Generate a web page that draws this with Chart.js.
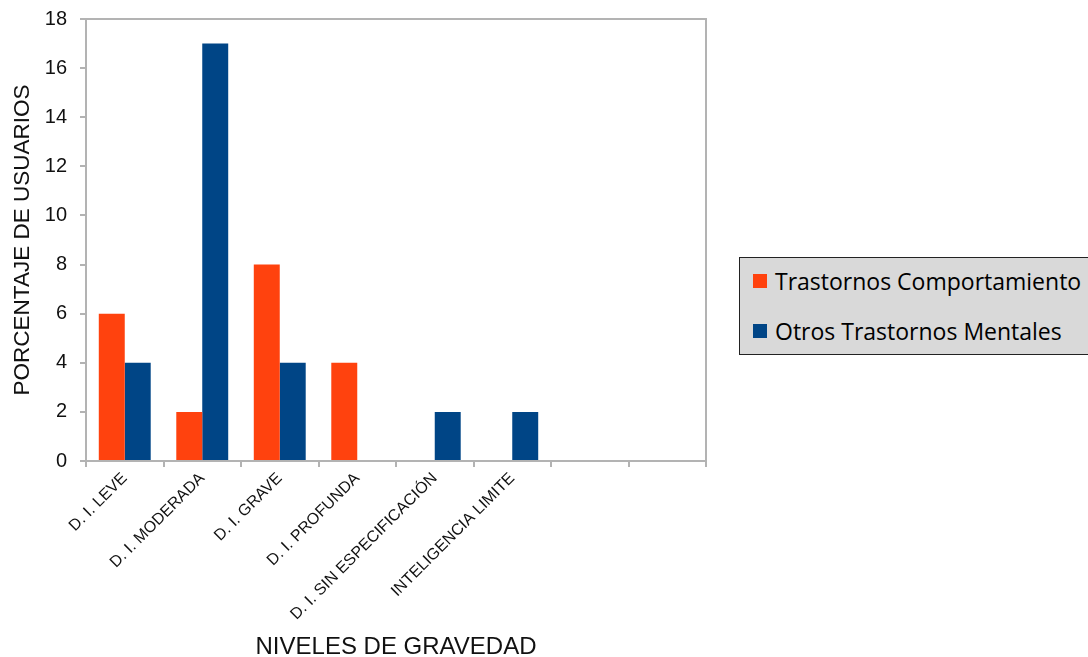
<!DOCTYPE html>
<html>
<head>
<meta charset="utf-8">
<script src="https://cdn.jsdelivr.net/npm/chart.js@4"></script>
<style>
    html, body { margin: 0; padding: 0; background: #fff; }
    #wrap { position: relative; width: 1088px; height: 657px; }
    #legend {
        position: absolute; left: 739px; top: 257px; width: 360px; height: 98px;
        background: #d9d9d9; border: 1px solid #222; box-sizing: border-box;
        font-family: "Open Sans", sans-serif; font-size: 23px; color: #000;
    }
    #legend .item { position: absolute; left: 13px; display: flex; align-items: center; white-space: nowrap; }
    #legend .box { width: 14px; height: 14px; margin-right: 8px; }
</style>
</head>
<body>
<div id="wrap">
    <canvas id="chartGravedad" width="1088" height="657"></canvas>
    <div id="legend"></div>
</div>
<script>
// Niveles de gravedad (las dos últimas categorías quedan vacías)
const niveles = ["D. I. LEVE", "D. I. MODERADA", "D. I. GRAVE", "D. I. PROFUNDA",
    "D. I. SIN ESPECIFICACIÓN", "INTELIGENCIA LIMITE", "", ""];
const trastornosComportamiento = [6, 2, 8, 4, null, null, null, null];
const otrosTrastornos = [4, 17, 4, null, 2, 2, null, null];
const ejeY = { min: 0, max: 18, paso: 2 };

const gris = "#b3b3b3";

// marco gris alrededor del área del gráfico
const marcoPlugin = {
    id: "marco",
    afterDraw(chart) {
        const a = chart.chartArea;
        const ctx = chart.ctx;
        ctx.save();
        ctx.strokeStyle = gris;
        ctx.lineWidth = 2;
        ctx.strokeRect(a.left, a.top, a.right - a.left, a.bottom - a.top);
        ctx.restore();
    }
};

const ctx = document.getElementById("chartGravedad").getContext("2d");
const chart = new Chart(ctx, {
    type: "bar",
    data: {
        labels: niveles,
        datasets: [
            { label: "Trastornos Comportamiento", data: trastornosComportamiento, backgroundColor: "#ff420e" },
            { label: "Otros Trastornos Mentales", data: otrosTrastornos, backgroundColor: "#004586" }
        ]
    },
    options: {
        responsive: false,
        animation: false,
        categoryPercentage: 0.67,
        barPercentage: 1,
        layout: { padding: { top: 19, right: 382, left: 0, bottom: 0 } },
        plugins: { legend: { display: false }, tooltip: { enabled: false } },
        scales: {
            x: {
                grid: { offset: true, drawOnChartArea: false, tickLength: 6, color: gris, lineWidth: 2 },
                border: { display: false },
                ticks: {
                    maxRotation: 45, minRotation: 45, autoSkip: false, padding: 2,
                    color: "#111", font: { family: "Liberation Sans", size: 16 }
                },
                title: {
                    display: true, text: "NIVELES DE GRAVEDAD", color: "#111",
                    font: { family: "Liberation Sans", size: 24 }, padding: { top: 0, bottom: -5 }
                },
                afterFit(scale) { scale.height = 657 - 461; }
            },
            y: {
                min: ejeY.min, max: ejeY.max,
                grid: { drawOnChartArea: false, tickLength: 6, color: gris, lineWidth: 2 },
                border: { display: false },
                ticks: {
                    stepSize: ejeY.paso, padding: 13,
                    color: "#111", font: { family: "Liberation Sans", size: 20 }
                },
                title: {
                    display: true, text: "PORCENTAJE DE USUARIOS", color: "#111",
                    font: { family: "Liberation Sans", size: 22.5 }, padding: { top: 9, bottom: 0 }
                },
                afterFit(scale) {
                    scale.width = 86;
                    scale.paddingTop = 0;
                    scale.paddingBottom = 0;
                }
            }
        }
    },
    plugins: [marcoPlugin]
});

// leyenda en HTML a partir de los datasets
const legend = document.getElementById("legend");
chart.data.datasets.forEach((ds, i) => {
    const item = document.createElement("div");
    item.className = "item";
    item.style.top = (i === 0 ? 7 : 57) + "px";
    const box = document.createElement("span");
    box.className = "box";
    box.style.background = ds.backgroundColor;
    const txt = document.createElement("span");
    txt.textContent = ds.label;
    item.appendChild(box);
    item.appendChild(txt);
    legend.appendChild(item);
});
</script>
</body>
</html>
